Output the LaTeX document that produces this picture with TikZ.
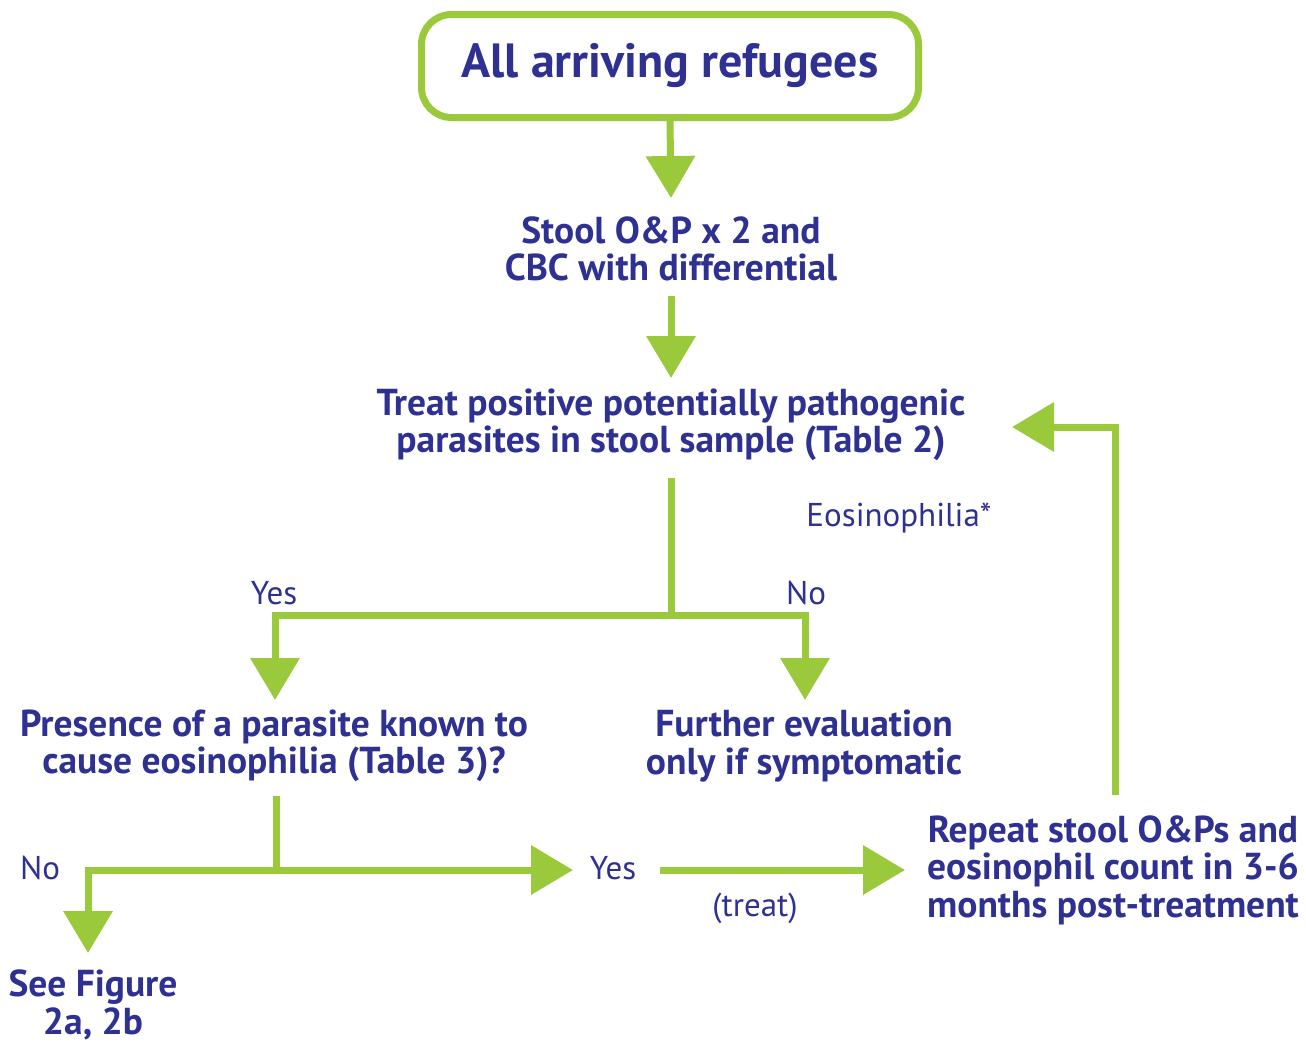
\documentclass[tikz,border=0pt]{standalone}
\usepackage{fontspec}
\setmainfont{PT Sans}
\usetikzlibrary{arrows.meta}
\definecolor{navy}{RGB}{46,49,146}
\definecolor{lgreen}{RGB}{154,202,60}
\begin{document}
\begin{tikzpicture}[x=1pt,y=-1pt,
  big/.style={font=\fontsize{37.5}{37.5}\selectfont\bfseries, text=navy, align=center, inner sep=0pt},
  lab/.style={font=\fontsize{33}{35}\selectfont, text=navy, inner sep=0pt},
  conn/.style={draw=lgreen, line width=7pt},
  arr/.style={conn, -{Triangle[length=42pt,width=48pt]}}]

\useasboundingbox (0,0) rectangle (1306,1045);

\node[draw=lgreen, line width=7pt, rounded corners=30pt, minimum width=497pt, minimum height=103pt,
      text=navy, font=\fontsize{48}{50}\selectfont\bfseries] (start) at (670,66) {All arriving refugees};

\node[big] (stool) at (671,249) {Stool O\&P x 2 and\\CBC with differential};
\node[big] (treat) at (671,425) {Treat positive potentially pathogenic\\parasites in stool sample (Table 2)};
\node[big] (presence) at (274,746) {Presence of a parasite known to\\cause eosinophilia (Table 3)?};
\node[big] (further) at (804,746) {Further evaluation\\only if symptomatic};
\node[big] (repeat) at (1113,870) {Repeat stool O\&Ps and\\eosinophil count in 3-6\\months post-treatment};
\node[big] (seefig) at (93,1005) {See Figure\\2a, 2b};

\node[lab] (yes1) at (274,593) {Yes};
\node[lab] (no1) at (806,593) {No};
\node[lab] (no2) at (40,868) {No};
\node[lab] (yes2) at (613,868) {Yes};
\node[lab] (treatlbl) at (755,908) {(treat)};
\node[lab] (eos) at (899,518) {Eosinophilia*};

\coordinate (t1) at (671,198);
\coordinate (s2) at (671,296);
\coordinate (t2) at (671,378);
\coordinate (s3) at (671,478);
\coordinate (j1) at (671,615);
\coordinate (t3) at (275,700);
\coordinate (t4) at (805,700);
\coordinate (s5) at (276,796);
\coordinate (j2) at (276,870);
\coordinate (t5) at (573,870);
\coordinate (t6) at (88,953);
\coordinate (s7) at (660,870);
\coordinate (t7) at (905,870);
\coordinate (s8) at (1115,795);
\coordinate (t8) at (1012,427);

\draw[arr] (start.south) -- (t1);
\draw[arr] (s2) -- (t2);
\draw[conn] (s3) -- (j1);
\draw[arr] (j1) -| (t3);
\draw[arr] (j1) -| (t4);
\draw[conn] (s5) -- (j2);
\draw[arr] (j2) -- (t5);
\draw[arr] (j2) -| (t6);
\draw[arr] (s7) -- (t7);
\draw[arr] (s8) |- (t8);
\end{tikzpicture}
\end{document}
